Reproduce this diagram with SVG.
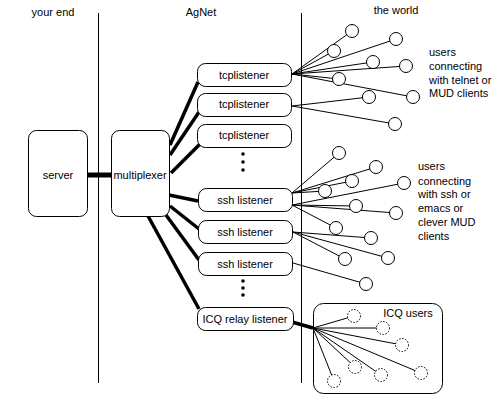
<svg xmlns="http://www.w3.org/2000/svg" width="500" height="400" viewBox="0 0 500 400">
<style>
text{font-family:"Liberation Sans",Arial,sans-serif;font-size:11px;fill:#000}
.c{text-anchor:middle}
.box{fill:#fff;stroke:#000;stroke-width:1}
.thick{stroke:#000;stroke-width:3.5;fill:none}
.thin{stroke:#000;stroke-width:1;fill:none}
.user{fill:#fff;stroke:#000;stroke-width:1}
.icq{fill:#fff;stroke:#000;stroke-width:1;stroke-dasharray:1.5 1.5}
.dot{fill:#000}
</style>
<rect width="500" height="400" fill="#fff"/>
<g id="headers">
<text class="c" x="53" y="16">your end</text>
<text class="c" x="201" y="16">AgNet</text>
<text class="c" x="396" y="14">the world</text>
</g>
<g id="dividers">
<line x1="98.5" y1="13" x2="98.5" y2="383" class="thin"/>
<line x1="301.5" y1="13" x2="301.5" y2="383" class="thin"/>
</g>
<g id="icq-users">
<rect class="box" x="313.5" y="303.5" width="129" height="90" rx="10"/>
<text class="c" x="408" y="317">ICQ users</text>
</g>
<g id="connectors">
<line x1="87" y1="175" x2="112" y2="175" stroke="#000" stroke-width="5"/>
<line class="thick" x1="170" y1="145" x2="198" y2="82"/>
<line class="thick" x1="170" y1="155" x2="199" y2="112"/>
<line class="thick" x1="171" y1="173" x2="200" y2="144"/>
<line class="thick" x1="169" y1="195" x2="198" y2="201"/>
<line class="thick" x1="170" y1="206" x2="199" y2="229"/>
<line class="thick" x1="166" y1="215" x2="199" y2="260"/>
<line class="thick" x1="148" y1="216" x2="199" y2="309"/>
<line class="thick" x1="292" y1="322" x2="313" y2="328"/>
<g class="thin">
<line x1="292" y1="74" x2="352" y2="31"/>
<line x1="292" y1="74" x2="396" y2="39"/>
<line x1="292" y1="74" x2="334" y2="51"/>
<line x1="292" y1="74" x2="373" y2="62"/>
<line x1="292" y1="74" x2="406" y2="66"/>
<line x1="292" y1="74" x2="339" y2="79"/>
<line x1="292" y1="74" x2="413" y2="97"/>
<line x1="292" y1="106" x2="369" y2="97"/>
<line x1="292" y1="106" x2="395" y2="124"/>
<line x1="292" y1="193" x2="339" y2="153"/>
<line x1="292" y1="193" x2="376" y2="167"/>
<line x1="292" y1="193" x2="352" y2="181"/>
<line x1="292" y1="193" x2="325" y2="191"/>
<line x1="292" y1="205" x2="404" y2="183"/>
<line x1="292" y1="205" x2="356" y2="206"/>
<line x1="292" y1="205" x2="396" y2="213"/>
<line x1="292" y1="205" x2="336" y2="228"/>
<line x1="293" y1="232" x2="371" y2="238"/>
<line x1="293" y1="232" x2="388" y2="258"/>
<line x1="293" y1="232" x2="345" y2="259"/>
<line x1="293" y1="263" x2="366" y2="284"/>
<line x1="313" y1="328" x2="354" y2="316"/>
<line x1="313" y1="328" x2="383" y2="328"/>
<line x1="313" y1="328" x2="402" y2="345"/>
<line x1="313" y1="328" x2="355" y2="367"/>
<line x1="313" y1="328" x2="421" y2="373"/>
<line x1="313" y1="328" x2="381" y2="375"/>
<line x1="313" y1="328" x2="334" y2="381"/>
</g>
</g>
<g id="server"><rect class="box" x="28.5" y="130.5" width="59" height="86" rx="8"/><text class="c" x="58" y="179">server</text></g>
<g id="multiplexer"><rect class="box" x="111.5" y="130.5" width="58" height="86" rx="8"/><text class="c" x="140" y="179">multiplexer</text></g>
<g id="tcp1"><rect class="box" x="197.5" y="63.5" width="94" height="23" rx="8"/><text class="c" x="244" y="79">tcplistener</text></g>
<g id="tcp2"><rect class="box" x="197.5" y="93.5" width="94" height="23" rx="8"/><text class="c" x="244" y="108">tcplistener</text></g>
<g id="tcp3"><rect class="box" x="197.5" y="124.5" width="94" height="23" rx="8"/><text class="c" x="244" y="139">tcplistener</text></g>
<g id="dots1"><circle class="dot" cx="243" cy="154" r="1.8"/><circle class="dot" cx="243" cy="162" r="1.8"/><circle class="dot" cx="243" cy="170" r="1.8"/></g>
<g id="ssh1"><rect class="box" x="198.5" y="188.5" width="94" height="23" rx="8"/><text class="c" x="245" y="204">ssh listener</text></g>
<g id="ssh2"><rect class="box" x="198.5" y="220.5" width="94" height="23" rx="8"/><text class="c" x="245" y="236">ssh listener</text></g>
<g id="ssh3"><rect class="box" x="198.5" y="252.5" width="94" height="23" rx="8"/><text class="c" x="245" y="268">ssh listener</text></g>
<g id="dots2"><circle class="dot" cx="243" cy="281" r="1.8"/><circle class="dot" cx="243" cy="288" r="1.8"/><circle class="dot" cx="243" cy="295" r="1.8"/></g>
<g id="icq-relay"><rect class="box" x="197.5" y="307.5" width="96" height="23" rx="8"/><text class="c" x="245" y="323">ICQ relay listener</text></g>
<g id="telnet-users">
<circle class="user" cx="352" cy="31" r="6.5"/>
<circle class="user" cx="396" cy="39" r="6.5"/>
<circle class="user" cx="334" cy="51" r="6.5"/>
<circle class="user" cx="373" cy="62" r="6.5"/>
<circle class="user" cx="406" cy="66" r="6.5"/>
<circle class="user" cx="339" cy="79" r="6.5"/>
<circle class="user" cx="413" cy="97" r="6.5"/>
<circle class="user" cx="369" cy="97" r="6.5"/>
<circle class="user" cx="395" cy="124" r="6.5"/>
<text x="429" y="56">users</text>
<text x="429" y="70">connecting</text>
<text x="429" y="84">with telnet or</text>
<text x="429" y="97">MUD clients</text>
</g>
<g id="ssh-users">
<circle class="user" cx="339" cy="153" r="6.5"/>
<circle class="user" cx="376" cy="167" r="6.5"/>
<circle class="user" cx="352" cy="181" r="6.5"/>
<circle class="user" cx="404" cy="183" r="6.5"/>
<circle class="user" cx="325" cy="191" r="6.5"/>
<circle class="user" cx="356" cy="206" r="6.5"/>
<circle class="user" cx="396" cy="213" r="6.5"/>
<circle class="user" cx="336" cy="228" r="6.5"/>
<circle class="user" cx="371" cy="238" r="6.5"/>
<circle class="user" cx="388" cy="258" r="6.5"/>
<circle class="user" cx="345" cy="259" r="6.5"/>
<circle class="user" cx="366" cy="284" r="6.5"/>
<text x="418" y="170">users</text>
<text x="418" y="185">connecting</text>
<text x="418" y="198">with ssh or</text>
<text x="418" y="212">emacs or</text>
<text x="418" y="226">clever MUD</text>
<text x="418" y="240">clients</text>
</g>
<g id="icq-user-nodes">
<circle class="icq" cx="354" cy="316" r="6.5"/>
<circle class="icq" cx="383" cy="328" r="6.5"/>
<circle class="icq" cx="402" cy="345" r="6.5"/>
<circle class="icq" cx="355" cy="367" r="6.5"/>
<circle class="icq" cx="421" cy="373" r="6.5"/>
<circle class="icq" cx="381" cy="375" r="6.5"/>
<circle class="icq" cx="334" cy="381" r="6.5"/>
</g>
</svg>
